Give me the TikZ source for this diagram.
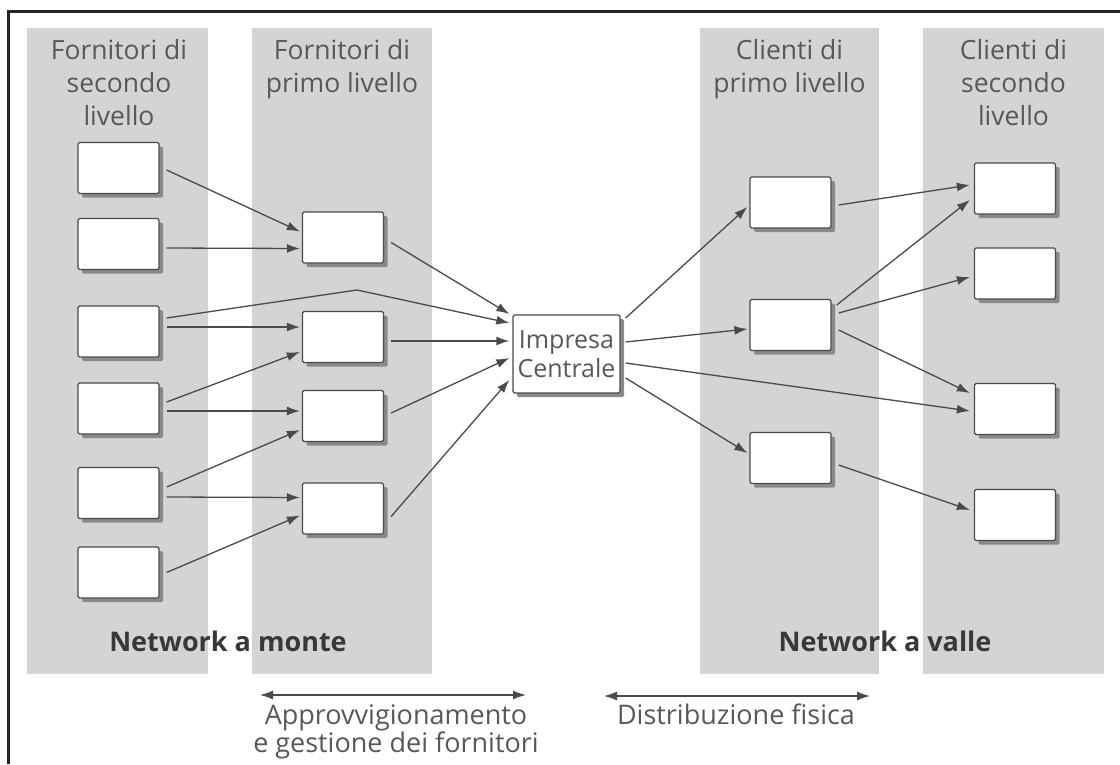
\documentclass[tikz,border=0pt]{standalone}
\usepackage{fontspec}
\setmainfont{Open Sans}
\usetikzlibrary{arrows.meta,shadows}
\definecolor{colgray}{HTML}{D4D4D6}
\definecolor{linegray}{HTML}{4A4A4A}
\definecolor{txtgray}{HTML}{585858}
\definecolor{boldgray}{HTML}{383838}
\definecolor{shade}{HTML}{8A8A8A}
\begin{document}
\begin{tikzpicture}[x=1pt,y=-1pt,
  unit/.style={draw=linegray,line width=1.3pt,fill=white,inner sep=0pt,
    minimum width=81pt,minimum height=51pt,rounded corners=1.5pt,
    drop shadow={shadow xshift=4pt,shadow yshift=-4pt,fill=shade,opacity=1}},
  flow/.style={draw=linegray,line width=1.3pt,-{Latex[length=13pt,width=9pt]}},
  span/.style={draw=linegray,line width=1.3pt,{Latex[length=13pt,width=9pt]}-{Latex[length=13pt,width=9pt]}},
  header/.style={anchor=north,align=center,inner sep=0pt,text=txtgray,
    font=\fontsize{26.5}{33}\selectfont},
  netlabel/.style={inner sep=0pt,text=boldgray,font=\fontsize{27}{30}\bfseries},
  caption/.style={anchor=north,align=center,inner sep=0pt,text=txtgray,
    font=\fontsize{27}{28.5}\selectfont}]
\useasboundingbox (0,0) rectangle (1120,764);

% frame
\draw[line width=3pt,black!85] (8,764) -- (8,11) -- (1120,11);

% shaded columns
\fill[colgray] (27,28) rectangle (208,674);
\fill[colgray] (252,28) rectangle (432,674);
\fill[colgray] (700,28) rectangle (879,674);
\fill[colgray] (923,28) rectangle (1104,674);

% column headings
\node[header] (h1) at (119,39) {Fornitori di\\secondo\\livello};
\node[header] (h2) at (342,39) {Fornitori di\\primo livello};
\node[header] (h3) at (789.5,39) {Clienti di\\primo livello};
\node[header] (h4) at (1013.5,39) {Clienti di\\secondo\\livello};

% second-tier suppliers
\node[unit] (s1) at (118.5,168) {};
\node[unit] (s2) at (118.5,244) {};
\node[unit] (s3) at (118.5,331.5) {};
\node[unit] (s4) at (118.5,408.5) {};
\node[unit] (s5) at (118.5,493) {};
\node[unit] (s6) at (118.5,572.5) {};

% first-tier suppliers
\node[unit] (p1) at (343,237.5) {};
\node[unit] (p2) at (343,337) {};
\node[unit] (p3) at (343,416) {};
\node[unit] (p4) at (343,508.5) {};

% focal firm
\node[unit,minimum width=107pt,minimum height=78pt,align=center,text=txtgray,
  font=\fontsize{25}{29}\selectfont] (imp) at (566.5,354) {Impresa\\Centrale};

% first-tier customers
\node[unit] (c1) at (790.5,202.5) {};
\node[unit] (c2) at (790.5,325) {};
\node[unit] (c3) at (790.5,458) {};

% second-tier customers
\node[unit] (d1) at (1015,188.5) {};
\node[unit] (d2) at (1015,273.5) {};
\node[unit] (d3) at (1015,409) {};
\node[unit] (d4) at (1015,515) {};

% upstream flows
\draw[flow] ([xshift=7pt,yshift=-2pt]s1.east) -- ([xshift=-2pt,yshift=6pt]p1.west);
\draw[flow] ([xshift=7pt,yshift=-4pt]s2.east) -- ([xshift=-2pt,yshift=-11pt]p1.west);
\coordinate (bend) at (357,290);
\draw[flow] ([xshift=7pt,yshift=13.5pt]s3.east) -- (bend) -- ([xshift=-3pt,yshift=31pt]imp.west);
\draw[flow] ([xshift=7pt,yshift=4.5pt]s3.east) -- ([xshift=-2pt,yshift=10pt]p2.west);
\draw[flow] ([xshift=7pt,yshift=6.5pt]s4.east) -- ([xshift=-2pt,yshift=-15pt]p2.west);
\draw[flow] ([xshift=7pt,yshift=-2.5pt]s4.east) -- ([xshift=-2pt,yshift=5pt]p3.west);
\draw[flow] ([xshift=7pt,yshift=6pt]s5.east) -- ([xshift=-2pt,yshift=-14pt]p3.west);
\draw[flow] ([xshift=7pt,yshift=-4pt]s5.east) -- ([xshift=-2pt,yshift=11pt]p4.west);
\draw[flow] ([xshift=7pt,yshift=0pt]s6.east) -- ([xshift=-2pt,yshift=-7pt]p4.west);

\draw[flow] ([xshift=7pt,yshift=-5pt]p1.east) -- ([xshift=-3pt,yshift=40pt]imp.west);
\draw[flow] ([xshift=7pt,yshift=-4pt]p2.east) -- ([xshift=-3pt,yshift=13pt]imp.west);
\draw[flow] ([xshift=7pt,yshift=3pt]p3.east) -- ([xshift=-3pt,yshift=-4pt]imp.west);
\draw[flow] ([xshift=7pt,yshift=-8pt]p4.east) -- ([xshift=-3pt,yshift=-26pt]imp.west);

% downstream flows
\draw[flow] ([xshift=5pt,yshift=36pt]imp.east) -- ([xshift=-2pt,yshift=-4.5pt]c1.west);
\draw[flow] ([xshift=5pt,yshift=12pt]imp.east) -- ([xshift=-2pt,yshift=-4pt]c2.west);
\draw[flow] ([xshift=5pt,yshift=-9pt]imp.east) -- ([xshift=-4pt,yshift=-2pt]d3.west);
\draw[flow] ([xshift=5pt,yshift=-24pt]imp.east) -- ([xshift=-2pt,yshift=5pt]c3.west);

\draw[flow] ([xshift=7pt,yshift=-2.5pt]c1.east) -- ([xshift=-4pt,yshift=3.5pt]d1.west);
\draw[flow] ([xshift=5pt,yshift=20pt]c2.east) -- ([xshift=-4pt,yshift=-11.5pt]d1.west);
\draw[flow] ([xshift=7pt,yshift=12pt]c2.east) -- ([xshift=-4pt,yshift=-3.5pt]d2.west);
\draw[flow] ([xshift=7pt,yshift=-5pt]c2.east) -- ([xshift=-4pt,yshift=16pt]d3.west);
\draw[flow] ([xshift=7pt,yshift=-7pt]c3.east) -- ([xshift=-4pt,yshift=5pt]d4.west);

% network labels
\node[netlabel] (up) at (228,641) {Network a monte};
\node[netlabel] (down) at (885,641) {Network a valle};

% process spans
\coordinate (a1) at (260,695);
\coordinate (a2) at (526,695);
\draw[span] (a1) -- (a2);
\coordinate (b1) at (604,696);
\coordinate (b2) at (870,696);
\draw[span] (b1) -- (b2);

\node[caption] (proc1) at (396,704) {Approvvigionamento\\e gestione dei fornitori};
\node[caption] (proc2) at (736,704) {Distribuzione fisica};
\end{tikzpicture}
\end{document}
